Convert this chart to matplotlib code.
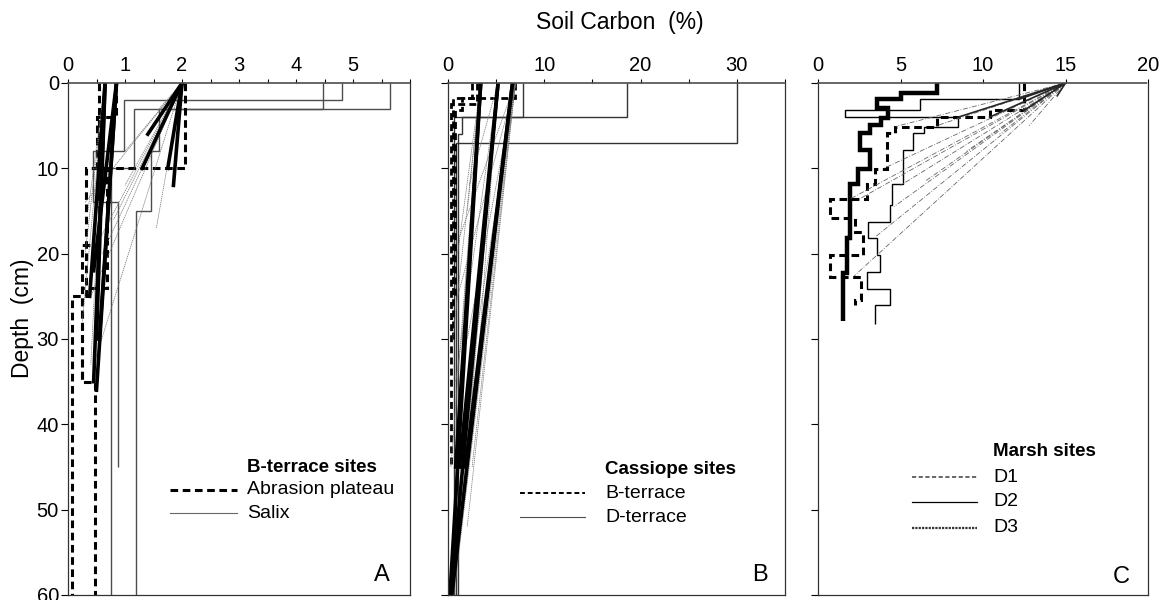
import numpy as np
import matplotlib.pyplot as plt
from matplotlib.lines import Line2D

plt.rcParams['font.family'] = ['Liberation Sans', 'DejaVu Sans']

# ---- panel A: B-terrace sites ----
abr_edges = [[0, 10, 25, 60], [0, 4, 10, 24, 35, 60], [0, 19, 35]]
abr_vals = [[2.05, 0.32, 0.07], [0.85, 0.5, 0.68, 0.25, 0.47], [0.55, 0.24]]
salix_edges = [[0, 3, 8, 15, 60], [0, 3, 10, 60], [0, 2, 8, 14, 45]]
salix_vals = [[5.65, 1.6, 1.45, 1.2], [4.47, 1.15, 0.75], [4.8, 0.98, 0.43, 0.88]]
# rays that converge on a few surface points
a_thick_from = [(0.65, 0), (0.65, 0), (0.65, 0), (0.85, 0), (0.85, 0), (0.85, 0),
                (2.0, 0), (2.0, 0), (2.0, 0), (2.0, 0)]
a_thick_to = [(0.45, 35), (0.38, 25), (0.5, 30), (0.5, 36), (0.55, 30), (0.45, 22),
              (1.3, 10), (1.75, 10), (1.85, 12), (1.4, 6)]
a_thin_from = [(2.0, 0)] * 10 + [(0.65, 0)] * 4
a_thin_to = [(0.4, 25), (0.6, 20), (1.0, 12), (0.5, 19), (1.0, 8), (0.3, 14),
             (1.55, 17), (0.45, 33), (1.6, 3), (0.8, 16),
             (0.3, 20), (0.25, 28), (0.4, 33), (0.35, 15)]

# ---- panel B: Cassiope sites ----
bter_edges = [[0, 1.8, 30], [0, 1.8, 3.2, 25], [0, 2.5, 45]]
bter_vals = [[7.0, 0.5], [2.5, 1.5, 0.7], [3.0, 0.35]]
dter_edges = [[0, 7, 60], [0, 4, 6, 60], [0, 4, 60]]
dter_vals = [[30.0, 0.8], [18.6, 1.44, 1.05], [7.8, 0.6]]
b_thick_from = [(3.4, 0), (3.4, 0), (5.2, 0), (5.2, 0), (6.7, 0), (6.7, 0)]
b_thick_to = [(0.2, 60), (0.8, 45), (0.3, 60), (1.2, 45), (0.4, 60), (1.8, 45)]
b_thin_from = [(7.0, 0)] * 10 + [(5.2, 0)] * 7 + [(3.4, 0)] * 5
b_thin_to = [(4.4, 21), (3.0, 35), (2.0, 30), (1.0, 25), (2.5, 45), (0.6, 60),
             (3.6, 28), (1.5, 40), (2.0, 52), (1.2, 18),
             (2.5, 30), (0.8, 35), (3.5, 20), (1.5, 50), (2.8, 38), (1.0, 55), (2.2, 12),
             (0.5, 30), (1.0, 20), (0.3, 45), (2.0, 15), (1.4, 30)]

# ---- panel C: Marsh sites ----
d1_edges = [0, 3.2, 4.0, 5.1, 5.9, 10.1, 11.8, 13.6, 15.8, 17.5, 20.2, 22.7, 25.4, 26.0]
d1_vals = [12.5, 10.4, 7.2, 4.67, 4.16, 3.45, 2.95, 0.73, 2.24, 2.75, 0.73, 2.58, 2.24]
d2_edges = [0, 1.9, 3.2, 4.0, 5.1, 5.9, 7.9, 11.8, 14.3, 16.3, 18.2, 20.2, 22.1, 24.1, 26.0, 28.2]
d2_vals = [12.2, 6.2, 1.64, 8.5, 6.4, 5.78, 5.17, 4.46, 4.36, 3.05, 3.55, 3.75, 2.95, 4.36, 3.45]
d3_edges = [0, 1.2, 1.9, 2.9, 4.1, 4.9, 5.9, 7.8, 10.1, 11.85, 18.2, 22.3, 27.9]
d3_vals = [7.2, 5.0, 3.56, 4.26, 3.8, 3.15, 2.55, 3.15, 2.44, 1.94, 1.74, 1.53]
c_thick_to = [(12.5, 3.2), (12.2, 1.9), (10.4, 4.0), (8.5, 4.0), (14.5, 1.5)]
c_thin_to = [(7.2, 5.0), (4.7, 5.1), (4.0, 10.0), (1.94, 13.6), (2.5, 13.6),
             (2.2, 22.6), (4.6, 14.5), (5.0, 12.0), (9.0, 8.0), (11.0, 6.0),
             (12.8, 5.0), (3.5, 18.0), (6.5, 11.5)]
c_anchor = (15.0, 0)

fig = plt.figure(figsize=(11.68, 6), dpi=100)
W, H = 1168, 600


def px_axes(l, r, t, b):
    return fig.add_axes([l / W, 1 - b / H, (r - l) / W, (b - t) / H])


axA = px_axes(68, 410, 83, 595)
axB = px_axes(448, 785, 83, 595)
axC = px_axes(818, 1148, 83, 595)


def rays(ax, starts, ends, **kw):
    for (x0, y0), (x1, y1) in zip(starts, ends):
        ax.plot([x0, x1], [y0, y1], **kw)


thin_ray = dict(color='0.45', lw=0.5, ls=(0, (2, 1)))
thick_ray = dict(color='black', lw=2.6)

# A
rays(axA, a_thin_from, a_thin_to, **thin_ray)
rays(axA, a_thick_from, a_thick_to, **thick_ray)
for e, v in zip(salix_edges, salix_vals):
    axA.stairs(v, e, orientation='horizontal', baseline=None, color='0.3', lw=1.0)
for e, v in zip(abr_edges, abr_vals):
    axA.stairs(v, e, orientation='horizontal', baseline=None, color='black', lw=2.2,
               ls=(0, (2.5, 1.5)))

# B
rays(axB, b_thin_from, b_thin_to, **thin_ray)
rays(axB, b_thick_from, b_thick_to, **thick_ray)
for e, v in zip(dter_edges, dter_vals):
    axB.stairs(v, e, orientation='horizontal', baseline=None, color='0.2', lw=1.0)
for e, v in zip(bter_edges, bter_vals):
    axB.stairs(v, e, orientation='horizontal', baseline=None, color='black', lw=2.0,
               ls=(0, (2.5, 1.5)))

# C
rays(axC, [c_anchor] * len(c_thin_to), c_thin_to, color='0.4', lw=0.6, ls=(0, (6, 2, 1, 2)))
rays(axC, [c_anchor] * len(c_thick_to), c_thick_to, color='0.15', lw=1.2)
axC.stairs(d2_vals, d2_edges, orientation='horizontal', baseline=None, color='black', lw=1.0)
axC.stairs(d1_vals, d1_edges, orientation='horizontal', baseline=None, color='black', lw=2.2,
           ls=(0, (2.5, 1.5)))
axC.stairs(d3_vals, d3_edges, orientation='horizontal', baseline=None, color='black', lw=3.2)

limits = [(axA, 6, np.arange(0, 6.5, 0.5), [0, 1, 2, 3, 4, 5]),
          (axB, 35, np.arange(0, 36, 5), [0, 10, 20, 30]),
          (axC, 20, np.arange(0, 21, 5), [0, 5, 10, 15, 20])]
for ax, xmax, ticks, labeled in limits:
    ax.set_xlim(0, xmax)
    ax.set_ylim(60, 0)
    ax.xaxis.tick_top()
    ax.set_xticks(ticks)
    ax.set_xticklabels([str(int(t)) if t in labeled else '' for t in ticks])
    ax.set_yticks(range(0, 61, 10))
    ax.tick_params(axis='x', direction='out', length=3, width=0.8, labelsize=14.5, pad=2.5)
    ax.tick_params(axis='y', direction='out', length=5, width=0.8, labelsize=14.5, pad=1.5)
    ax.spines['top'].set_linestyle((0, (1, 1)))
    ax.spines['top'].set_linewidth(1.2)
    ax.spines['top'].set_color('0.3')
    for s in ['left', 'right', 'bottom']:
        ax.spines[s].set_linewidth(0.9)
        ax.spines[s].set_color('0.2')
axB.set_yticklabels([])
axC.set_yticklabels([])

fig.text(620 / W, 1 - 22 / H, 'Soil Carbon  (%)', ha='center', va='center', fontsize=16.5)
fig.text(22 / W, 1 - 318 / H, 'Depth  (cm)', ha='center', va='center', fontsize=16.5, rotation=90)

for x, y, t in [(382, 575, 'A'), (760, 575, 'B'), (1121, 577, 'C')]:
    fig.text(x / W, 1 - y / H, t, ha='center', va='center', fontsize=17)


def legend(title, tx, ty, x0, x1, items):
    fig.text(tx / W, 1 - ty / H, title, ha='left', va='center', fontsize=13.5, weight='bold')
    for y, label, style in items:
        fig.add_artist(Line2D([x0 / W, x1 / W], [1 - y / H, 1 - y / H], transform=fig.transFigure, **style))
        fig.text(tx / W, 1 - y / H, label, ha='left', va='center', fontsize=14)


legend('B-terrace sites', 247, 467, 170, 237,
       [(490, 'Abrasion plateau', dict(color='black', lw=2.2, ls=(0, (2.5, 1.5)))),
        (513, 'Salix', dict(color='0.4', lw=0.8))])
legend('Cassiope sites', 605, 469, 520, 585,
       [(493, 'B-terrace', dict(color='black', lw=1.4, ls=(0, (2.5, 1.5)))),
        (517, 'D-terrace', dict(color='0.3', lw=0.8))])
legend('Marsh sites', 993, 452, 912, 977,
       [(477, 'D1', dict(color='0.3', lw=1.2, ls=(0, (2.5, 1.5)))),
        (502, 'D2', dict(color='black', lw=0.9)),
        (528, 'D3', dict(color='0.2', lw=1.6, ls=(0, (1, 0.5))))])

fig.savefig('out.png', dpi=100)
